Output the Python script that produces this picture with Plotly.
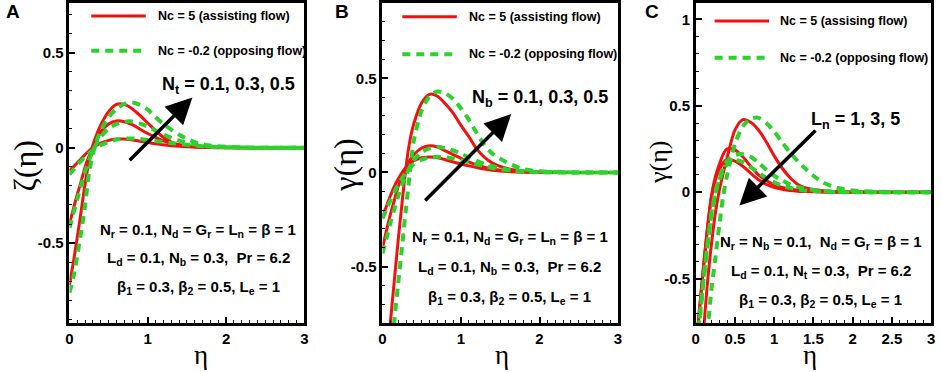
import plotly.graph_objects as go

W, H = 941, 372

# ---------------- data ----------------
eta = [0, 0.05, 0.1, 0.15, 0.2, 0.25, 0.3, 0.35, 0.4, 0.5, 0.6, 0.7, 0.8, 0.9,
       1.0, 1.1, 1.2, 1.3, 1.4, 1.6, 1.8, 2.0, 2.5, 3.0]

# Panel A: zeta(eta), Nt = 0.1, 0.3, 0.5
A_red_nt01 = [-0.12, -0.1, -0.078, -0.057, -0.035, -0.016, 0.0, 0.014, 0.025, 0.039, 0.046, 0.046,
              0.041, 0.035, 0.028, 0.021, 0.016, 0.011, 0.008, 0.004, 0.002, 0.001, 0, 0]
A_red_nt03 = [-0.40, -0.32, -0.245, -0.175, -0.10, -0.045, 0.0, 0.045, 0.085, 0.125, 0.141, 0.137,
              0.122, 0.098, 0.075, 0.055, 0.037, 0.024, 0.015, 0.006, 0.002, 0.001, 0, 0]
A_red_nt05 = [-0.72, -0.6, -0.47, -0.33, -0.19, -0.07, 0.015, 0.072, 0.12, 0.19, 0.228, 0.228,
              0.205, 0.17, 0.13, 0.09, 0.055, 0.03, 0.016, 0.005, 0.002, 0.0, 0, 0]
A_grn_nt01 = [-0.14, -0.115, -0.09, -0.068, -0.047, -0.028, -0.012, 0.002, 0.014, 0.032, 0.043, 0.048,
              0.049, 0.046, 0.041, 0.036, 0.03, 0.025, 0.02, 0.012, 0.006, 0.003, 0, 0]
A_grn_nt03 = [-0.42, -0.345, -0.27, -0.195, -0.125, -0.065, -0.016, 0.025, 0.058, 0.1, 0.125, 0.137,
              0.138, 0.128, 0.11, 0.09, 0.07, 0.052, 0.037, 0.017, 0.007, 0.003, 0, 0]
A_grn_nt05 = [-0.76, -0.68, -0.565, -0.44, -0.3, -0.13, -0.03, 0.04, 0.09, 0.16, 0.205, 0.23,
              0.238, 0.225, 0.2, 0.16, 0.125, 0.095, 0.068, 0.03, 0.012, 0.005, 0, 0]

# Panel B: gamma(eta), Nb = 0.1, 0.3, 0.5
B_red_nb01 = [-0.24, -0.18, -0.125, -0.075, -0.035, 0.0, 0.028, 0.048, 0.063, 0.078, 0.082, 0.078,
              0.068, 0.056, 0.045, 0.035, 0.026, 0.018, 0.012, 0.005, 0.002, 0.001, 0, 0]
B_red_nb03 = [-0.40, -0.31, -0.225, -0.15, -0.075, -0.02, 0.025, 0.065, 0.095, 0.13, 0.142, 0.135,
              0.115, 0.095, 0.075, 0.056, 0.04, 0.028, 0.018, 0.008, 0.003, 0.001, 0, 0]
B_red_nb05 = [-1.35, -1.05, -0.8, -0.58, -0.36, -0.16, 0.03, 0.17, 0.26, 0.37, 0.415, 0.405,
              0.365, 0.315, 0.25, 0.19, 0.125, 0.08, 0.05, 0.02, 0.007, 0.002, 0, 0]
B_grn_nb01 = [-0.245, -0.195, -0.15, -0.105, -0.065, -0.03, 0.0, 0.025, 0.045, 0.068, 0.079, 0.083,
              0.081, 0.074, 0.065, 0.054, 0.043, 0.033, 0.024, 0.012, 0.005, 0.002, 0, 0]
B_grn_nb03 = [-0.43, -0.35, -0.27, -0.195, -0.125, -0.065, -0.015, 0.03, 0.065, 0.108, 0.128, 0.135,
              0.13, 0.117, 0.1, 0.08, 0.062, 0.046, 0.033, 0.015, 0.006, 0.002, 0, 0]
B_grn_nb05 = [-1.55, -1.25, -1.0, -0.79, -0.59, -0.39, -0.19, 0.0, 0.17, 0.33, 0.405, 0.43,
              0.42, 0.39, 0.34, 0.28, 0.21, 0.145, 0.1, 0.05, 0.017, 0.006, 0, 0]

# Panel C: gamma(eta), Ln = 1, 3, 5
C_red_ln1 = [-1.6, -1.15, -0.8, -0.52, -0.3, -0.12, 0.01, 0.11, 0.2, 0.36, 0.42, 0.405,
             0.36, 0.29, 0.21, 0.14, 0.085, 0.045, 0.025, 0.01, 0.003, 0.001, 0, 0]
C_red_ln3 = [-0.9, -0.66, -0.42, -0.2, -0.02, 0.09, 0.16, 0.22, 0.25, 0.245, 0.205, 0.15,
             0.1, 0.068, 0.043, 0.028, 0.018, 0.011, 0.007, 0.003, 0.001, 0, 0, 0]
C_red_ln5 = [-0.92, -0.67, -0.43, -0.21, -0.03, 0.07, 0.13, 0.17, 0.19, 0.18, 0.15, 0.11,
             0.072, 0.045, 0.028, 0.017, 0.01, 0.006, 0.004, 0.001, 0, 0, 0, 0]
C_grn_ln1 = [-1.7, -1.35, -1.05, -0.8, -0.56, -0.38, -0.19, -0.02, 0.1, 0.28, 0.38, 0.425,
             0.43, 0.4, 0.35, 0.29, 0.23, 0.18, 0.135, 0.062, 0.026, 0.01, 0.001, 0]
C_grn_ln3 = [-0.95, -0.72, -0.5, -0.3, -0.12, 0.0, 0.08, 0.14, 0.18, 0.215, 0.22, 0.205,
             0.17, 0.13, 0.095, 0.068, 0.046, 0.03, 0.02, 0.008, 0.003, 0.001, 0, 0]
C_grn_ln5 = [-0.97, -0.74, -0.51, -0.31, -0.13, -0.01, 0.07, 0.125, 0.16, 0.185, 0.175, 0.145,
             0.113, 0.082, 0.057, 0.038, 0.025, 0.016, 0.01, 0.004, 0.001, 0, 0, 0]

# tick labels
xA_ticks = [0, 1, 2, 3]
xA_text = ["0", "1", "2", "3"]
xC_ticks = [0, 0.5, 1, 1.5, 2, 2.5, 3]
xC_text = ["0", "0.5", "1", "1.5", "2", "2.5", "3"]
yAB_ticks = [-0.5, 0, 0.5]
yAB_text = ["-0.5", "0", "0.5"]
yC_ticks = [-0.5, 0, 0.5, 1]
yC_text = ["-0.5", "0", "0.5", "1"]

legend_red = ["Nc = 5 (assisting flow)", "Nc = 5 (assisting flow)", "Nc = 5 (assising flow)"]
legend_grn = "Nc = -0.2 (opposing flow)"

RED = "#f21010"
GRN = "#2bd22b"

# ---------------- layout geometry (pixels) ----------------
panels = [
    dict(x0=66, x1=303, yr=[-0.92, 0.76], xt=(xA_ticks, xA_text), yt=(yAB_ticks, yAB_text),
         reds=[A_red_nt01, A_red_nt03, A_red_nt05], grns=[A_grn_nt01, A_grn_nt03, A_grn_nt05]),
    dict(x0=381.7, x1=619.3, yr=[-0.80, 0.90], xt=(xA_ticks, xA_text), yt=(yAB_ticks, yAB_text),
         reds=[B_red_nb01, B_red_nb03, B_red_nb05], grns=[B_grn_nb01, B_grn_nb03, B_grn_nb05]),
    dict(x0=697.7, x1=935, yr=[-0.757, 1.094], xt=(xC_ticks, xC_text), yt=(yC_ticks, yC_text),
         reds=[C_red_ln1, C_red_ln3, C_red_ln5], grns=[C_grn_ln1, C_grn_ln3, C_grn_ln5]),
]
YTOP, YBOT = 2, 323

fig = go.Figure()

FONT = "Liberation Sans, Arial, sans-serif"
SERIF = "Liberation Serif, Times New Roman, serif"

def px(x):
    return x / W

def py(y):
    return 1 - y / H

for i, p in enumerate(panels):
    k = "" if i == 0 else str(i + 1)
    xa, ya = "x" + k, "y" + k
    for ys in p["reds"]:
        fig.add_trace(go.Scatter(x=eta, y=ys, mode="lines", xaxis=xa, yaxis=ya,
                                 line=dict(color=RED, width=3, shape="spline", smoothing=0.8),
                                 showlegend=False, hoverinfo="skip"))
    for ys in p["grns"]:
        fig.add_trace(go.Scatter(x=eta, y=ys, mode="lines", xaxis=xa, yaxis=ya,
                                 line=dict(color=GRN, width=4, dash="8px,6px", shape="spline", smoothing=0.8),
                                 showlegend=False, hoverinfo="skip"))
    axis_common = dict(showline=True, linecolor="black", linewidth=2.5, mirror=True,
                       ticks="inside", ticklen=6, tickwidth=1.5, tickcolor="black",
                       showgrid=False, zeroline=False,
                       tickfont=dict(family=FONT, size=15, color="black", weight="bold"))
    fig.layout["xaxis" + k] = dict(
        axis_common, domain=[px(p["x0"]), px(p["x1"])], range=[0, 3], anchor=ya,
        tickmode="array", tickvals=p["xt"][0], ticktext=p["xt"][1],
        minor=dict(tickmode="linear", tick0=0, dtick=0.1, ticks="inside", ticklen=3,
                   tickwidth=1, tickcolor="black"))
    fig.layout["yaxis" + k] = dict(
        axis_common, domain=[py(YBOT), py(YTOP)], range=p["yr"], anchor=xa,
        tickmode="array", tickvals=p["yt"][0], ticktext=p["yt"][1],
        minor=dict(tickmode="linear", tick0=0, dtick=0.1, ticks="inside", ticklen=3,
                   tickwidth=1, tickcolor="black"))

shapes = []
annotations = []

# legends (manual)
leg = [
    dict(lx0=88, lx1=143, tx=153, yr=15, yg=50),
    dict(lx0=401.7, lx1=456.7, tx=467, yr=15.7, yg=53.5),
    dict(lx0=716.7, lx1=771.7, tx=781, yr=20, yg=57),
]
for i, L in enumerate(leg):
    shapes.append(dict(type="line", xref="paper", yref="paper", x0=px(L["lx0"]), x1=px(L["lx1"]),
                       y0=py(L["yr"]), y1=py(L["yr"]), line=dict(color=RED, width=3)))
    shapes.append(dict(type="line", xref="paper", yref="paper", x0=px(L["lx0"]), x1=px(L["lx1"]),
                       y0=py(L["yg"]), y1=py(L["yg"]), line=dict(color=GRN, width=4, dash="8px,6px")))
    annotations.append(dict(xref="paper", yref="paper", x=px(L["tx"]), y=py(L["yr"]), text=legend_red[i],
                            showarrow=False, xanchor="left", yanchor="middle",
                            font=dict(family=FONT, size=12.5, color="black", weight="bold")))
    annotations.append(dict(xref="paper", yref="paper", x=px(L["tx"]), y=py(L["yg"]), text=legend_grn,
                            showarrow=False, xanchor="left", yanchor="middle",
                            font=dict(family=FONT, size=12.5, color="black", weight="bold")))

# panel letters
for t, x in [("A", 9), ("B", 341), ("C", 654)]:
    annotations.append(dict(xref="paper", yref="paper", x=px(x), y=py(11), text=t, showarrow=False,
                            xanchor="center", yanchor="middle",
                            font=dict(family=FONT, size=19, color="black", weight="bold")))

# axis titles
for x, t, s, yc in [(21, "ζ(η)", 32, 165), (343, "γ(η)", 32, 165), (660, "γ(η)", 26, 162)]:
    annotations.append(dict(xref="paper", yref="paper", x=px(x), y=py(yc), text=t, textangle=-90,
                            showarrow=False, xanchor="center", yanchor="middle",
                            font=dict(family=SERIF, size=s, color="black")))
for x in [199, 502, 813]:
    annotations.append(dict(xref="paper", yref="paper", x=px(x), y=py(355), text="η",
                            showarrow=False, xanchor="center", yanchor="middle",
                            font=dict(family=SERIF, size=27, color="black")))

# arrows + parameter labels
arrows = [
    dict(xa="x", ya="y", tail=(0.75, -0.073), head=(1.57, 0.264),
         label="N<sub>t</sub> = 0.1, 0.3, 0.5", lpos=(226, 85)),
    dict(xa="x2", ya="y2", tail=(0.525, -0.157), head=(1.64, 0.31),
         label="N<sub>b</sub> = 0.1, 0.3, 0.5", lpos=(541, 98)),
    dict(xa="x3", ya="y3", tail=(1.546, 0.366), head=(0.556, -0.077),
         label="L<sub>n</sub> = 1, 3, 5", lpos=(859, 120)),
]
for a in arrows:
    annotations.append(dict(xref=a["xa"], yref=a["ya"], axref=a["xa"], ayref=a["ya"],
                            x=a["head"][0], y=a["head"][1], ax=a["tail"][0], ay=a["tail"][1],
                            text="", showarrow=True, arrowhead=2, arrowsize=1.5, arrowwidth=3.5,
                            arrowcolor="black"))
    annotations.append(dict(xref="paper", yref="paper", x=px(a["lpos"][0]), y=py(a["lpos"][1]),
                            text=a["label"], showarrow=False, xanchor="center", yanchor="middle",
                            font=dict(family=FONT, size=18, color="black", weight="bold")))

params = [
    (196, [230, 258, 287], ["N<sub>r</sub> = 0.1, N<sub>d</sub> = G<sub>r</sub> = L<sub>n</sub> = β = 1",
                            "L<sub>d</sub> = 0.1, N<sub>b</sub> = 0.3,  Pr = 6.2",
                            "β<sub>1</sub> = 0.3, β<sub>2</sub> = 0.5, L<sub>e</sub> = 1"]),
    (510, [237, 267, 297], ["N<sub>r</sub> = 0.1, N<sub>d</sub> = G<sub>r</sub> = L<sub>n</sub> = β = 1",
                            "L<sub>d</sub> = 0.1, N<sub>b</sub> = 0.3,  Pr = 6.2",
                            "β<sub>1</sub> = 0.3, β<sub>2</sub> = 0.5, L<sub>e</sub> = 1"]),
    (824, [242, 271, 300], ["N<sub>r</sub> = N<sub>b</sub> = 0.1,  N<sub>d</sub> = G<sub>r</sub> = β = 1",
                            "L<sub>d</sub> = 0.1, N<sub>t</sub> = 0.3,  Pr = 6.2",
                            "β<sub>1</sub> = 0.3, β<sub>2</sub> = 0.5, L<sub>e</sub> = 1"]),
]
for cx, ys, texts in params:
    for y, t in zip(ys, texts):
        annotations.append(dict(xref="paper", yref="paper", x=px(cx), y=py(y), text=t,
                                showarrow=False, xanchor="center", yanchor="middle",
                                font=dict(family=FONT, size=15, color="black", weight="bold")))

fig.update_layout(width=W, height=H, margin=dict(l=0, r=0, t=0, b=0),
                  paper_bgcolor="white", plot_bgcolor="white",
                  shapes=shapes, annotations=annotations, showlegend=False)

fig.write_html("out.html", config={"displayModeBar": False},
               post_script="document.body.style.margin='0';document.body.style.overflow='hidden';")
